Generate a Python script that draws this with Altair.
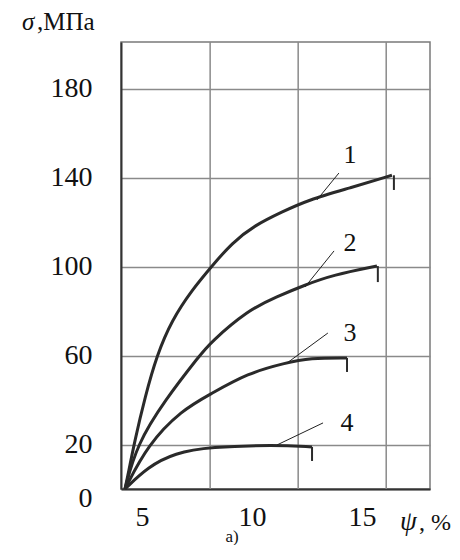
import altair as alt
import pandas as pd

# ---- data (ψ in %, σ in MPa) ----
psi_1 = [4.23, 4.32, 4.68, 5.14, 5.68, 6.36, 7.27, 8.18, 9.09, 10.14, 11.36, 12.55, 14.45, 16.36]
sig_1 = [0, 4.0, 22.0, 41.3, 60.2, 75.9, 89.4, 100.2, 110.6, 118.6, 124.5, 129.9, 135.3, 141]
psi_2 = [4.23, 4.77, 6.05, 7.64, 8.09, 9.82, 11.14, 12.41, 13.68, 15.68]
sig_2 = [0, 20, 40, 60.2, 65.6, 80.4, 86.5, 91.7, 96.2, 100.2]
psi_3 = [4.23, 5.27, 6.82, 8.09, 9.82, 11.5, 12.64, 14.32]
sig_3 = [0, 20, 35.5, 42.5, 52.1, 56.6, 58.9, 58.9]
psi_4 = [4.23, 5.27, 6.5, 8.09, 11.05, 12.73]
sig_4 = [0, 9.9, 16.2, 18.9, 19.8, 18.9]

curve_names = ["1", "2", "3", "4"]
# end ticks of each curve
end_psi = [16.45, 15.72, 14.32, 12.73]
end_top = [141, 100.2, 58.9, 18.9]
end_bot = [134.4, 93, 52.6, 12.6]
# curve labels and leader lines
label_psi = [14.45, 14.45, 14.45, 14.32]
label_sig = [150, 110.6, 70.1, 29.7]
lead_psi1 = [13.95, 13.73, 13.45, 13.23]
lead_sig1 = [142, 107, 70.1, 29.7]
lead_psi2 = [12.95, 12.41, 11.59, 11.14]
lead_sig2 = [129.9, 90.8, 56.6, 19.8]

x_ticks = [5, 10, 15]
y_ticks = [0, 20, 60, 100, 140, 180]
x_grid = [8.1, 12.1, 16.1]

rows = []
for name, xs_, ys_ in zip(curve_names, [psi_1, psi_2, psi_3, psi_4], [sig_1, sig_2, sig_3, sig_4]):
    for i, (a, b) in enumerate(zip(xs_, ys_)):
        rows.append({"curve": name, "i": i, "psi": a, "sigma": b})
curves = pd.DataFrame(rows)
ends = pd.DataFrame({"curve": curve_names, "psi": end_psi, "top": end_top, "bot": end_bot})
labels = pd.DataFrame({"curve": curve_names, "psi": label_psi, "sigma": label_sig})
leads = pd.DataFrame({"curve": curve_names, "x1": lead_psi1, "y1": lead_sig1, "x2": lead_psi2, "y2": lead_sig2})
grid = pd.DataFrame({"g": x_grid})

FONT = "Liberation Serif"
xs = alt.Scale(domain=[4.05, 18.09], nice=False, zero=False)
ys = alt.Scale(domain=[0, 200.9], nice=False, zero=False)

xaxis = alt.Axis(values=x_ticks, grid=False, ticks=False, tickSize=0, title=None,
                 labelFont=FONT, labelFontSize=28, labelColor="#111", labelPadding=14,
                 domainColor="#333", domainWidth=2)
yaxis = alt.Axis(values=y_ticks, grid=True, gridColor="#8a8a8a", gridWidth=1.5,
                 ticks=False, tickSize=0, title=None,
                 labelFont=FONT, labelFontSize=28, labelColor="#111", labelPadding=29,
                 labelOffset={"condition": {"test": "datum.value === 0", "value": 9}, "value": 0},
                 domainColor="#333", domainWidth=2)

base_x = alt.X("psi:Q", scale=xs, axis=xaxis)
base_y = alt.Y("sigma:Q", scale=ys, axis=yaxis)

grid_layer = alt.Chart(grid).mark_rule(color="#8a8a8a", strokeWidth=1.5).encode(
    x=alt.X("g:Q", scale=xs, axis=xaxis))

line_layer = alt.Chart(curves).mark_line(color="#2a2a2a", strokeWidth=3, interpolate="basis").encode(
    x=base_x, y=base_y, detail="curve:N", order="i:Q")

end_layer = alt.Chart(ends).mark_rule(color="#2a2a2a", strokeWidth=2).encode(
    x=alt.X("psi:Q", scale=xs, axis=xaxis),
    y=alt.Y("top:Q", scale=ys, axis=yaxis), y2="bot:Q")

lead_layer = alt.Chart(leads).mark_rule(color="#222", strokeWidth=1).encode(
    x=alt.X("x1:Q", scale=xs, axis=xaxis), x2="x2:Q",
    y=alt.Y("y1:Q", scale=ys, axis=yaxis), y2="y2:Q")

label_layer = alt.Chart(labels).mark_text(font=FONT, fontSize=26, color="#111").encode(
    x=base_x, y=base_y, text="curve:N")

def txt(s, x, y, size, style="normal", align="left", baseline="alphabetic"):
    return alt.Chart(pd.DataFrame({"t": [s]})).mark_text(
        font=FONT, fontSize=size, fontStyle=style, align=align, baseline=baseline, color="#111"
    ).encode(text="t:N", x=alt.value(x), y=alt.value(y))

titles = [
    txt("σ", -99, -12, 25, "italic"),
    txt(",МПа", -84, -12, 25),
    txt("ψ", 279, 488, 27, "italic"),
    txt(", %", 298, 488, 24),
    txt("a)", 111, 500, 17, align="center"),
]

chart = alt.layer(grid_layer, line_layer, end_layer, lead_layer, label_layer, *titles).properties(
    width=309, height=447,
    autosize=alt.AutoSizeParams(type="none"),
    padding={"left": 113, "top": 34, "right": 22, "bottom": 56},
    background="white",
).configure_view(stroke="#7a7a7a", strokeWidth=1.5)

chart.save("out.html", embed_options={"renderer": "svg", "actions": False})
